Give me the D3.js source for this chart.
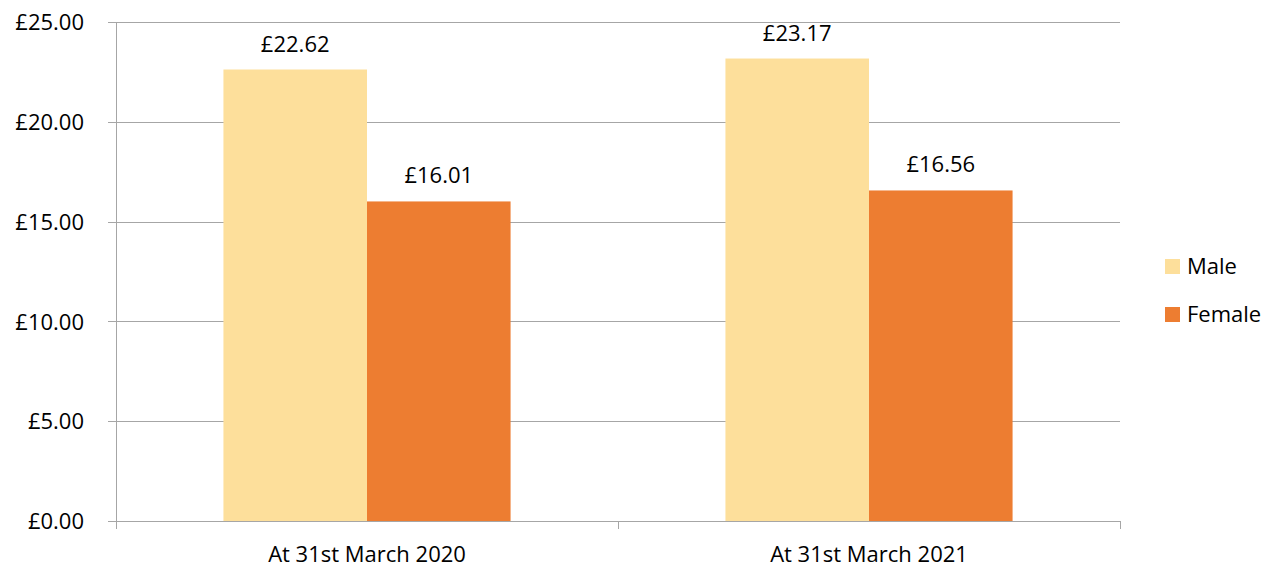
<!DOCTYPE html>
<html>
<head>
<script src="https://d3js.org/d3.v7.min.js"></script>
<style>
    body { margin: 0; background: #fff; font-family: "Open Sans", sans-serif; }
    .axis path, .axis line { stroke: #a6a6a6; shape-rendering: crispEdges; }
    .axis text { font-size: 22px; fill: #000; font-family: "Open Sans", sans-serif; }
    .grid line { stroke: #a6a6a6; shape-rendering: crispEdges; }
</style>
</head>
<body>
<div id="chart"></div>
<script>
var categories = ["At 31st March 2020", "At 31st March 2021"];
var seriesNames = ["Male", "Female"];
var male = [22.62, 23.17];
var female = [16.01, 16.56];
var yTicks = [0, 5, 10, 15, 20, 25];
var colors = ["#fddf9b", "#ed7d31"];

var W = 1273, H = 567;
var margin = {top: 22, right: 153, bottom: 46, left: 116};
var width = W - margin.left - margin.right,
    height = H - margin.top - margin.bottom;

var svg = d3.select("#chart").append("svg")
    .attr("width", W).attr("height", H);
var g = svg.append("g")
    .attr("transform", "translate(" + margin.left + "," + margin.top + ")");

var x0 = d3.scaleBand().domain(categories).range([0, width]).paddingInner(0.428).paddingOuter(0.214);
var x1 = d3.scaleBand().domain(seriesNames).range([0, x0.bandwidth()]);
var y = d3.scaleLinear().domain([0, 25]).range([height, 0]);

var fmt = function(d) { return "£" + d3.format(".2f")(d); };

// gridlines
g.append("g").attr("class", "grid")
    .selectAll("line").data(yTicks.filter(function(d) { return d > 0; })).enter()
    .append("line")
    .attr("x1", 0).attr("x2", width)
    .attr("y1", function(d) { return Math.round(y(d)) + 0.5; })
    .attr("y2", function(d) { return Math.round(y(d)) + 0.5; });

var rows = categories.map(function(c, i) {
    return {cat: c, vals: [{s: "Male", v: male[i]}, {s: "Female", v: female[i]}]};
});

var groups = g.selectAll(".grp").data(rows).enter().append("g")
    .attr("transform", function(d) { return "translate(" + x0(d.cat) + ",0)"; });

groups.selectAll("rect").data(function(d) { return d.vals; }).enter().append("rect")
    .attr("x", function(d) { return x1(d.s); })
    .attr("width", x1.bandwidth())
    .attr("y", function(d) { return y(d.v); })
    .attr("height", function(d) { return height - y(d.v); })
    .attr("fill", function(d, i) { return colors[i]; });

groups.selectAll("text").data(function(d) { return d.vals; }).enter().append("text")
    .attr("x", function(d) { return x1(d.s) + x1.bandwidth() / 2; })
    .attr("y", function(d) { return y(d.v) - 18; })
    .attr("text-anchor", "middle")
    .style("font-size", "22px")
    .text(function(d) { return fmt(d.v); });

// y axis
g.append("g").attr("class", "axis")
    .call(d3.axisLeft(y).tickValues(yTicks).tickFormat(fmt).tickSizeOuter(0).tickSize(8).tickPadding(24))
    .call(function(a) { a.selectAll("text").attr("dy", "0.35em"); });

// x axis
var xa = g.append("g").attr("class", "axis")
    .attr("transform", "translate(0," + height + ")")
    .call(d3.axisBottom(x0).tickSize(0).tickPadding(25).tickSizeOuter(0));
xa.selectAll("text").attr("dy", "0.71em");
// category boundary ticks
xa.selectAll(".bound").data([0, width / 2, width]).enter().append("line")
    .attr("class", "bound")
    .attr("x1", function(d) { return Math.round(d) + 0.5; })
    .attr("x2", function(d) { return Math.round(d) + 0.5; })
    .attr("y1", 0).attr("y2", 8);

// legend
var legend = svg.append("g").attr("transform", "translate(1165,259)");
var li = legend.selectAll("g").data(seriesNames).enter().append("g")
    .attr("transform", function(d, i) { return "translate(0," + i * 48 + ")"; });
li.append("rect").attr("width", 15).attr("height", 15)
    .attr("fill", function(d, i) { return colors[i]; });
li.append("text").attr("x", 22).attr("y", 15)
    .style("font-size", "22px")
    .text(function(d) { return d; });
</script>
</body>
</html>
